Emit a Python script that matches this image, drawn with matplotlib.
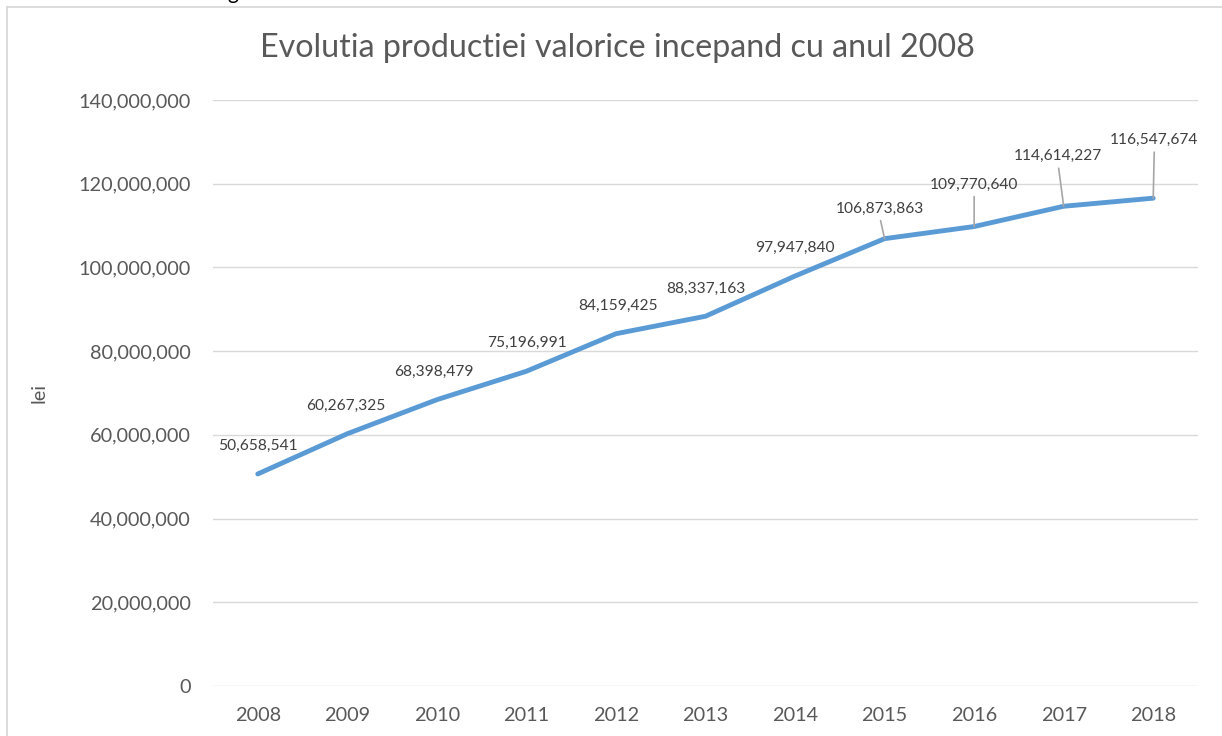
import matplotlib
matplotlib.use("Agg")
import matplotlib.pyplot as plt
from matplotlib.ticker import FuncFormatter
from matplotlib.lines import Line2D

years = ["2008", "2009", "2010", "2011", "2012", "2013", "2014", "2015", "2016", "2017", "2018"]
values = [50658541, 60267325, 68398479, 75196991, 84159425, 88337163,
          97947840, 106873863, 109770640, 114614227, 116547674]
title = "Evolutia productiei valorice incepand cu anul 2008"
ylabel = "lei"

W, H, DPI = 1222, 736, 100
FONT = ["Lato", "DejaVu Sans"]
plt.rcParams["font.family"] = FONT

fig = plt.figure(figsize=(W / DPI, H / DPI), dpi=DPI)
ax = fig.add_axes([213 / W, 1 - 686 / H, (1198 - 213) / W, (686 - 100) / H])

x = list(range(len(years)))
ax.plot(x, values, color="#5B9BD5", lw=3.5, solid_capstyle="round", zorder=3)

ax.set_xlim(-0.5, len(years) - 0.5)
ax.set_ylim(0, 140_000_000)
ax.set_yticks(range(0, 140_000_001, 20_000_000))
ax.yaxis.set_major_formatter(FuncFormatter(lambda v, p: f"{int(v):,}"))
ax.set_xticks(x)
ax.set_xticklabels(years)
ax.grid(axis="y", color="#D9D9D9", lw=1.0)
ax.set_axisbelow(True)
for s in ax.spines.values():
    s.set_visible(False)
ax.tick_params(axis="both", length=0, labelsize=14.3, colors="#595959")
ax.tick_params(axis="y", pad=16)
ax.tick_params(axis="x", pad=15)
ax.set_ylabel(ylabel, fontsize=14.3, color="#595959", labelpad=22)

# data labels (offsets in pixels, layout only)
offsets = [(0, 28), (-2, 28), (-3, 28), (1, 28), (2, 28), (0, 27),
           (0, 28), (-5, 30), (0, 42), (-6, 50), (1, 58)]
leader = [False] * 7 + [True] * 4
for i, (v, off, ld) in enumerate(zip(values, offsets, leader)):
    ax.annotate(f"{v:,}", (i, v), xytext=off, textcoords="offset pixels",
                ha="center", va="center", fontsize=11.2, color="#404040",
                annotation_clip=False)
    if ld:
        ax.annotate("", (i, v), xytext=(off[0] + (1 if off[0] < 0 else 0), off[1] - 12),
                    textcoords="offset pixels",
                    arrowprops=dict(arrowstyle="-", color="#A6A6A6", lw=1.2,
                                    shrinkA=0, shrinkB=0))

fig.text(617 / W, 1 - 48 / H, title, ha="center", va="center",
         fontsize=23.2, color="#595959")

# chart border (extends past right and bottom edges)
fig.add_artist(Line2D([7 / W, 1.01], [1 - 7 / H, 1 - 7 / H], color="#D9D9D9", lw=1.3,
                      transform=fig.transFigure))
fig.add_artist(Line2D([7 / W, 7 / W], [1 - 7 / H, -0.01], color="#D9D9D9", lw=1.3,
                      transform=fig.transFigure))
# cut-off text above the chart (only its descender shows)
fig.text(233 / W, 1 + 1 / H, "g", ha="center", va="baseline", fontsize=15, color="#000000")

fig.savefig("out.png", dpi=DPI)
